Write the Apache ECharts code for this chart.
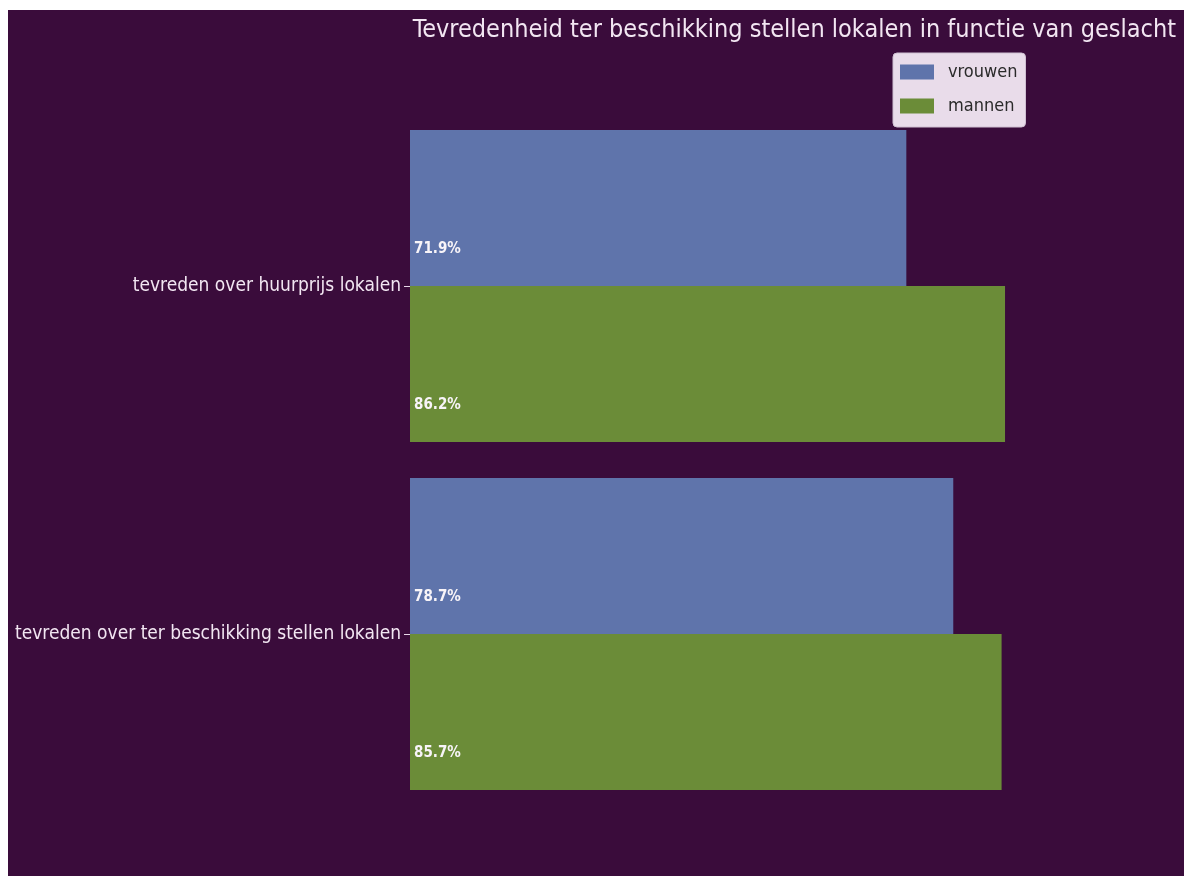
<!DOCTYPE html>
<html>
<head>
<meta charset="utf-8">
<script src="https://cdn.jsdelivr.net/npm/echarts@6/dist/echarts.min.js"></script>
<style>
html,body{margin:0;padding:0;background:#ffffff;width:1184px;height:876px;overflow:hidden;}
#chart{position:absolute;left:8px;top:10px;width:1176px;height:866px;}
</style>
</head>
<body>
<div id="chart"></div>
<script>
const categories = ['tevreden over huurprijs lokalen', 'tevreden over ter beschikking stellen lokalen'];
const seriesNames = ['vrouwen', 'mannen'];
const vrouwen = [71.9, 78.7];
const mannen = [86.2, 85.7];
const titleText = 'Tevredenheid ter beschikking stellen lokalen in functie van geslacht';

const FONT = '"DejaVu Sans Condensed", "Liberation Sans Narrow", "DejaVu Sans", sans-serif';
const chart = echarts.init(document.getElementById('chart'));
const labelCfg = {
  show: true,
  position: [4, 119],
  align: 'left',
  verticalAlign: 'middle',
  color: '#f8f4f8',
  fontWeight: 'bold',
  fontSize: 15,
  fontFamily: FONT,
  formatter: p => p.value.toFixed(1) + '%'
};
chart.setOption({
  backgroundColor: '#3a0c3b',
  animation: false,
  title: {
    text: titleText,
    right: 3,
    top: 3,
    textStyle: {color: '#f2e6f2', fontSize: 25, fontWeight: 'normal', fontFamily: FONT}
  },
  legend: {
    data: seriesNames,
    orient: 'vertical',
    left: 885,
    top: 43,
    itemWidth: 34,
    itemHeight: 15,
    itemGap: 14,
    padding: [9, 8, 11, 7],
    backgroundColor: '#e9dcea',
    borderColor: '#cfc0d2',
    borderWidth: 1,
    borderRadius: 4,
    icon: 'rect',
    textStyle: {color: '#2a2a2a', fontSize: 18, lineHeight: 20, fontFamily: FONT, padding: [0, 0, 0, 9]}
  },
  grid: {left: 402, right: 83.7, top: 102, bottom: 68, containLabel: false},
  xAxis: {
    type: 'value',
    min: 0,
    max: 100,
    show: false
  },
  yAxis: {
    type: 'category',
    data: categories,
    inverse: true,
    axisLine: {show: false},
    axisTick: {show: true, length: 6, alignWithLabel: true, lineStyle: {color: '#e8d8e8'}},
    axisLabel: {color: '#f2e6f2', fontSize: 19, fontFamily: FONT, margin: 9, padding: [4, 0, 0, 0]},
    splitLine: {show: false}
  },
  series: [
    {name: 'vrouwen', type: 'bar', data: vrouwen, barWidth: 156, barGap: '0%',
     itemStyle: {color: '#5f74ab'}, label: labelCfg},
    {name: 'mannen', type: 'bar', data: mannen, barWidth: 156, barGap: '0%',
     itemStyle: {color: '#6b8c38'}, label: labelCfg}
  ]
});
</script>
</body>
</html>
